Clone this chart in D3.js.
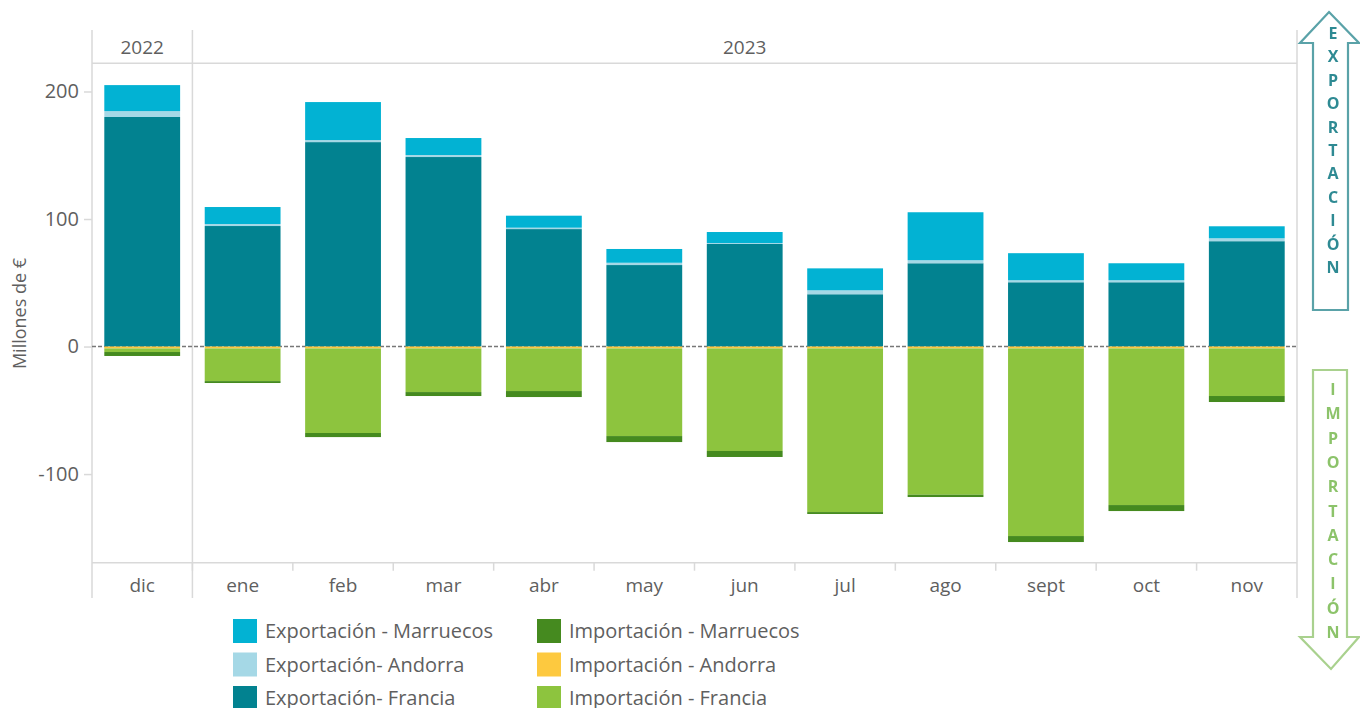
<!DOCTYPE html>
<html>
<head>
<meta charset="utf-8">
<script src="https://cdn.jsdelivr.net/npm/d3@7"></script>
<style>
  body { margin: 0; background: #fff; }
  svg { display: block; }
  text { font-family: "Open Sans", "Noto Sans", sans-serif; fill: #5f5f5f; }
</style>
</head>
<body>
<svg id="chart" width="1360" height="708"></svg>
<script>
// Monthly trade figures, millions of euros (exports positive, imports negative)
const months = ["dic", "ene", "feb", "mar", "abr", "may", "jun", "jul", "ago", "sept", "oct", "nov"];
const years = ["2022", "2023"];
const monthsPerYear = [1, 11];

const expFrancia   = [180.0, 94.5, 160.3, 148.6, 92.1, 63.9, 80.4, 41.0, 65.3, 50.4, 50.4, 82.6];
const expAndorra   = [4.6, 1.6, 1.6, 1.6, 1.1, 1.8, 0.8, 3.1, 2.4, 1.6, 1.6, 2.3];
const expMarruecos = [20.4, 13.3, 29.8, 13.3, 9.4, 10.8, 8.6, 17.2, 37.6, 21.2, 13.3, 9.4];
const impAndorra   = [-1.5, -1.5, -1.5, -1.5, -1.5, -1.5, -1.5, -1.5, -1.5, -1.5, -1.5, -1.5];
const impFrancia   = [-2.8, -25.6, -66.3, -34.2, -33.4, -68.7, -80.4, -128.3, -114.7, -147.1, -122.8, -37.3];
const impMarruecos = [-3.1, -1.5, -3.2, -3.1, -4.7, -4.7, -4.7, -1.5, -1.8, -4.7, -4.7, -4.7];

const yTicks = [200, 100, 0, -100];
const yDomain = [-169.5, 222.1];

const seriesNames = ["Exportación- Francia", "Exportación- Andorra", "Exportación - Marruecos",
                     "Importación - Andorra", "Importación - Francia", "Importación - Marruecos"];
const seriesValues = [expFrancia, expAndorra, expMarruecos, impAndorra, impFrancia, impMarruecos];
const seriesColors = ["#028290", "#a5d8e6", "#02b2d3", "#fdc93f", "#8dc43e", "#458a1f"];

const legendColumns = [
  ["Exportación - Marruecos", "Exportación- Andorra", "Exportación- Francia"],
  ["Importación - Marruecos", "Importación - Andorra", "Importación - Francia"]
];

(function draw() {
  // Table for the stack layout
  const table = months.map((m, i) => {
    const row = { month: m };
    seriesNames.forEach((s, k) => row[s] = seriesValues[k][i]);
    return row;
  });

  const svg = d3.select("#chart");
  const plotLeft = 92, plotRight = 1297, frameTop = 30, headerBottom = 63.3, plotBottom = 562.7, axisBottom = 598;

  const x = d3.scaleBand().domain(months).range([plotLeft, plotRight]).paddingInner(0.245).paddingOuter(0.1225);
  const y = d3.scaleLinear().domain(yDomain).range([plotBottom, headerBottom]);
  const color = d3.scaleOrdinal().domain(seriesNames).range(seriesColors);

  const stack = d3.stack().keys(seriesNames).offset(d3.stackOffsetDiverging);
  const layers = stack(table);

  const lineColor = "#d9d9d9";
  const g = svg.append("g");

  // Frame: header rule, axis rules, year divider
  g.append("line").attr("x1", plotLeft).attr("x2", plotRight).attr("y1", headerBottom).attr("y2", headerBottom)
    .attr("stroke", lineColor).attr("stroke-width", 1.5);
  g.append("line").attr("x1", plotLeft).attr("x2", plotRight).attr("y1", plotBottom).attr("y2", plotBottom)
    .attr("stroke", lineColor).attr("stroke-width", 1.5);

  const step = x.step();
  let acc = 0;
  const yearBounds = [];
  monthsPerYear.forEach(n => {
    yearBounds.push([plotLeft + acc * step, plotLeft + (acc + n) * step]);
    acc += n;
  });
  [plotLeft, ...yearBounds.map(b => b[1])].forEach(xv => {
    g.append("line").attr("x1", xv).attr("x2", xv).attr("y1", frameTop).attr("y2", axisBottom)
      .attr("stroke", lineColor).attr("stroke-width", 1.5);
  });

  // Year headers
  years.forEach((yr, i) => {
    const [x0, x1] = yearBounds[i];
    g.append("text").attr("x", (x0 + x1) / 2).attr("y", 54)
      .attr("text-anchor", "middle").attr("font-size", 19).text(yr);
  });

  // Month ticks along the bottom axis
  months.forEach((m, i) => {
    const xv = plotLeft + i * step;
    if (i > 0) {
      g.append("line").attr("x1", xv).attr("x2", xv).attr("y1", plotBottom).attr("y2", plotBottom + 8)
        .attr("stroke", lineColor).attr("stroke-width", 1.5);
    }
    g.append("text").attr("x", x(m) + x.bandwidth() / 2).attr("y", 592)
      .attr("text-anchor", "middle").attr("font-size", 19).text(m);
  });

  // Y axis ticks and labels (plain hyphen for negatives)
  const yAxis = d3.axisLeft(y).tickValues(yTicks).tickSize(8).tickPadding(5).tickFormat(d => String(d));
  const ya = svg.append("g").attr("transform", `translate(${plotLeft},0)`).call(yAxis);
  ya.select(".domain").remove();
  ya.selectAll(".tick line").attr("stroke", lineColor).attr("stroke-width", 1.5);
  ya.selectAll(".tick text").attr("font-size", 20).attr("fill", "#5f5f5f")
    .style("font-family", '"Open Sans", "Noto Sans", sans-serif');

  svg.append("text")
    .attr("transform", `translate(26, ${y(0) - 33}) rotate(-90)`)
    .attr("text-anchor", "middle").attr("font-size", 18).text("Millones de €");

  // Zero reference line
  svg.append("line").attr("x1", plotLeft).attr("x2", plotRight).attr("y1", y(0)).attr("y2", y(0))
    .attr("stroke", "#777").attr("stroke-width", 1.5).attr("stroke-dasharray", "4,2");

  // Stacked bars
  svg.append("g").selectAll("g").data(layers).join("g")
    .attr("fill", d => color(d.key))
    .selectAll("rect").data(d => d).join("rect")
    .attr("x", d => x(d.data.month))
    .attr("width", x.bandwidth())
    .attr("y", d => y(Math.max(d[0], d[1])))
    .attr("height", d => Math.abs(y(d[0]) - y(d[1])));

  // Legend
  const legend = svg.append("g");
  legendColumns.forEach((col, c) => {
    col.forEach((name, r) => {
      const lx = 233 + c * 304, ly = 619 + r * 33.5;
      legend.append("rect").attr("x", lx).attr("y", ly).attr("width", 24).attr("height", 24)
        .attr("fill", color(name));
      legend.append("text").attr("x", lx + 32).attr("y", ly + 19).attr("font-size", 20).text(name);
    });
  });

  // Direction arrows on the right edge
  const defs = svg.append("defs");
  defs.append("filter").attr("id", "soft").append("feGaussianBlur").attr("stdDeviation", 0.5);

  function drawArrow(points, stroke, word, yStart, yStep, textColor) {
    const a = svg.append("g").attr("filter", "url(#soft)");
    a.append("path").attr("d", d3.line()(points) + "Z")
      .attr("fill", "#fff").attr("stroke", stroke).attr("stroke-width", 2.2).attr("stroke-linejoin", "miter");
    Array.from(word).forEach((ch, i) => {
      a.append("text").attr("x", 1333).attr("y", yStart + i * yStep)
        .attr("text-anchor", "middle").attr("font-size", 16).attr("font-weight", 700)
        .style("fill", textColor).text(ch);
    });
  }

  drawArrow([[1329, 12], [1359, 43], [1348, 43], [1348, 310], [1313, 310], [1313, 43], [1300, 43]],
    "#5aa2a8", "EXPORTACIÓN", 39, 23.4, "#2f8a93");
  drawArrow([[1313, 370], [1347, 370], [1347, 637], [1359, 637], [1331, 669], [1300, 637], [1313, 637]],
    "#a9d18e", "IMPORTACIÓN", 395, 24.3, "#8cc36a");
})();
</script>
</body>
</html>
